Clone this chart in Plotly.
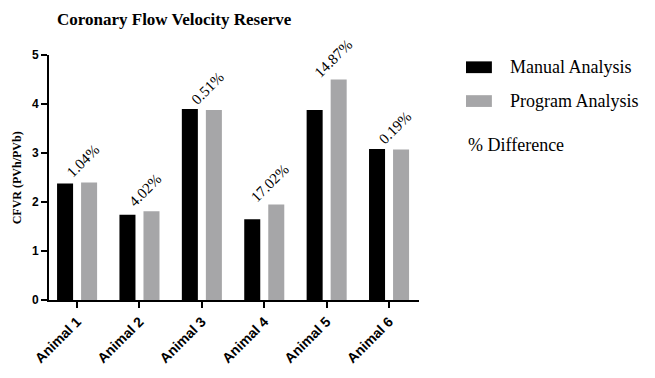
import plotly.graph_objects as go

categories = ["Animal 1", "Animal 2", "Animal 3", "Animal 4", "Animal 5", "Animal 6"]
manual = [2.38, 1.74, 3.90, 1.65, 3.88, 3.08]
program = [2.40, 1.81, 3.88, 1.95, 4.50, 3.07]
pct_diff = ["1.04%", "4.02%", "0.51%", "17.02%", "14.87%", "0.19%"]
series_names = ["Manual Analysis", "Program Analysis"]
series_colors = ["#000000", "#a6a6a8"]
title_text = "Coronary Flow Velocity Reserve"
y_title = "CFVR (PVh/PVb)"
diff_label = "% Difference"

SERIF = "Liberation Serif"
SANS = "Liberation Sans"

fig = go.Figure()
for name, vals, col in zip(series_names, [manual, program], series_colors):
    fig.add_trace(go.Bar(x=categories, y=vals, name=name,
                         marker=dict(color=col, line=dict(width=0)),
                         showlegend=False))

# percent difference labels above each group
for cat, m, p, t in zip(categories, manual, program, pct_diff):
    fig.add_annotation(x=cat, y=max(m, p), text=t, textangle=-45,
                       showarrow=False, xanchor="center", yanchor="middle",
                       xshift=6, yshift=21,
                       font=dict(family=SERIF, size=15, color="#000"))

# y-axis title
fig.add_annotation(x=-0.087, y=0.5, xref="paper", yref="paper",
                   text=y_title, textangle=-90, showarrow=False,
                   xanchor="center", yanchor="middle",
                   font=dict(family=SERIF, size=12, color="#000", weight="bold"))

# custom legend
leg_x0, leg_x1 = 1.127, 1.197
leg_rows = [0.950, 0.812]
for name, col, yc in zip(series_names, series_colors, leg_rows):
    fig.add_shape(type="rect", xref="paper", yref="paper",
                  x0=leg_x0, x1=leg_x1, y0=yc - 0.024, y1=yc + 0.024,
                  fillcolor=col, line=dict(width=0))
    fig.add_annotation(x=1.24, y=yc, xref="paper", yref="paper", text=name,
                       showarrow=False, xanchor="left", yanchor="middle",
                       font=dict(family=SERIF, size=18, color="#000"))
fig.add_annotation(x=1.127, y=0.633, xref="paper", yref="paper", text=diff_label,
                   showarrow=False, xanchor="left", yanchor="middle",
                   font=dict(family=SERIF, size=18, color="#000"))

fig.update_layout(
    width=647, height=370,
    margin=dict(l=41, r=236, t=47, b=78, pad=0),
    paper_bgcolor="white", plot_bgcolor="white",
    barmode="group", bargap=0.23, bargroupgap=0.333,
    title=dict(text=title_text, x=0.0216, xref="paper", xanchor="left",
               y=0.986, yref="container", yanchor="top",
               font=dict(family=SERIF, size=17, color="#000", weight="bold")),
    xaxis=dict(type="category", range=[-0.45, 5.48], showline=True,
               linecolor="#000", linewidth=2, ticks="outside", ticklen=6,
               tickwidth=2, tickcolor="#000", tickangle=-45, showgrid=False,
               tickfont=dict(family=SANS, size=14, color="#000", weight="bold")),
    yaxis=dict(range=[0, 5], dtick=1, showline=True, linecolor="#000",
               linewidth=2, ticks="outside", ticklen=6, tickwidth=2,
               tickcolor="#000", showgrid=False, zeroline=False,
               tickfont=dict(family=SANS, size=12, color="#000", weight="bold")),
)

fig.write_html("out.html")
